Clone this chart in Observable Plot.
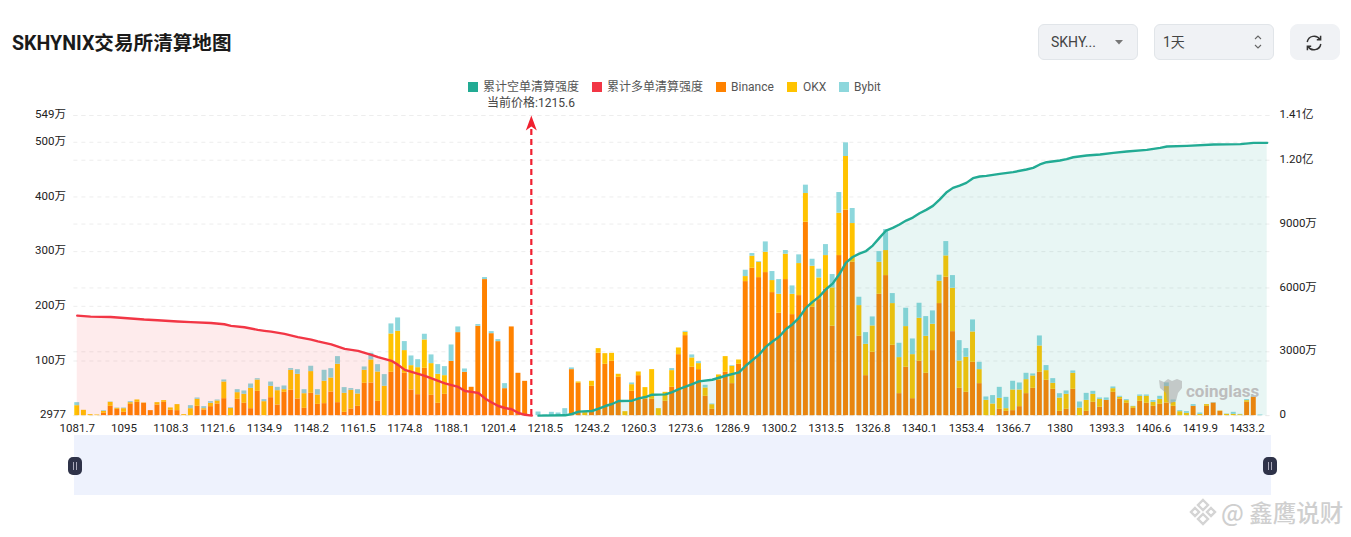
<!DOCTYPE html>
<html lang="zh">
<head>
<meta charset="utf-8">
<script src="https://cdn.jsdelivr.net/npm/d3@7"></script>
<script src="https://cdn.jsdelivr.net/npm/@observablehq/plot@0.6"></script>
<style>
html,body{margin:0;padding:0;background:#fff;overflow:hidden}
#page{position:relative;width:1351px;height:537px;font-family:Roboto,"Noto Sans CJK SC",sans-serif;overflow:hidden}
#page svg.plot{position:absolute;left:0;top:0}
.abs{position:absolute;white-space:nowrap}
#title{left:12px;top:30px;font:700 19.6px/28px Roboto,"Noto Sans CJK SC",sans-serif;color:#1a1a1a}
.ctl{position:absolute;top:24px;height:34px;background:#f0f2f5;border:1px solid #e1e5e9;border-radius:6px;font-size:14px;line-height:34px;color:#444}
.sw{position:absolute;top:82px;width:10px;height:10px}
.lg{position:absolute;top:79px;font-size:12px;line-height:16px;color:#555;white-space:nowrap}
#slider{position:absolute;left:74px;top:435px;width:1197px;height:60px;background:#eef2fd}
.hd{position:absolute;top:457px;width:14px;height:18px;border-radius:5px;background:#2f3349}
.hd i{position:absolute;top:5px;width:1px;height:8px;background:#aab}
</style>
</head>
<body>
<div id="page">
  <div class="abs" id="title">SKHYNIX交易所清算地图</div>
  <div class="ctl" style="left:1038px;width:98px"><span style="position:absolute;left:12px">SKHY...</span>
    <svg style="position:absolute;left:76px;top:15px" width="8" height="5"><path d="M0,0H8L4,4.5Z" fill="#777"/></svg></div>
  <div class="ctl" style="left:1154px;width:118px"><span style="position:absolute;left:8px">1天</span>
    <svg style="position:absolute;left:98px;top:9px" width="10" height="16"><path d="M2,5L5,2L8,5M2,11L5,14L8,11" fill="none" stroke="#666" stroke-width="1.1"/></svg></div>
  <div class="ctl" style="left:1290px;width:48px;border-color:#f0f2f5;border-radius:8px">
    <svg style="position:absolute;left:14px;top:9px" width="18" height="18" viewBox="0 0 18 18" fill="none" stroke="#333" stroke-width="1.5"><path d="M2.2,8A7,7 0 0 1 15,5.5M15.8,10A7,7 0 0 1 3,12.5"/><path d="M15.6,1.8V5.8H11.8M2.4,16.2V12.2H6.2"/></svg></div>

  <div id="chart"></div>

  <div class="sw" style="left:468px;background:#22ab94"></div><div class="lg" style="left:483px">累计空单清算强度</div>
  <div class="sw" style="left:592px;background:#f23645"></div><div class="lg" style="left:607px">累计多单清算强度</div>
  <div class="sw" style="left:716px;background:#ff8200"></div><div class="lg" style="left:731px">Binance</div>
  <div class="sw" style="left:787px;background:#ffc300"></div><div class="lg" style="left:803px">OKX</div>
  <div class="sw" style="left:839px;background:#8dd7dc"></div><div class="lg" style="left:854px">Bybit</div>
  <div class="lg" style="left:531px;top:95px;transform:translateX(-50%);color:#444;font-size:12px">当前价格:1215.6</div>

  <div id="slider"></div>
  <div class="hd" style="left:68px"><i style="left:5px"></i><i style="left:8px"></i></div>
  <div class="hd" style="left:1263px"><i style="left:5px"></i><i style="left:8px"></i></div>

  <svg class="abs" style="left:1156px;top:376px;opacity:.55" width="28" height="30" viewBox="0 0 28 30"><path d="M3,4 L8,6 L12,3 L16,5 L21,3 L26,5 L26,12 L22,17 L20,25 L14,28 L11,24 L10,17 L4,12Z" fill="#a5a5a5"/></svg>
  <div class="abs" style="left:1186px;top:380px;font:700 17px/22px Roboto,sans-serif;color:#bdbdbd">coinglass</div>

  <svg class="abs" style="left:1188px;top:497px" width="30" height="30" viewBox="0 0 30 30" fill="none" stroke="#d4d4d4" stroke-width="2.4"><path d="M15,3L20,8L15,13L10,8ZM7,11L11,15L7,19L3,15ZM23,11L27,15L23,19L19,15ZM15,17L20,22L15,27L10,22Z"/></svg>
  <div class="abs" style="left:1221px;top:497px;font:500 23.5px/30px 'Noto Sans CJK SC',sans-serif;color:#cfcfcf;letter-spacing:0">@ 鑫鹰说财</div>
</div>
<script>
// Exchange liquidation bars, in 万, one value per price bucket
const exchanges = ["Binance", "OKX", "Bybit"];
const exchangeColors = ["#ff8200", "#ffc300", "#8dd7dc"];

const binance = [
  0,0,0,0,4.3,17.1,11.6,6.1,20.7,24.4,
  22.6,9.2,19.5,24.4,9.8,9.2,0,0,17.1,10.4,
  16.5,21.4,31.1,0,29.9,22.6,12.8,44.5,0,32.9,
  19.5,42.7,46.4,30.5,13.4,40.9,20.7,22,43.3,23.8,
  6.1,12.2,17.1,59.2,59.8,26.2,0,79.3,92.7,77.5,
  47,38.4,86.6,37.2,22.6,39,99.4,151.9,79.3,51.9,
  163.5,248.9,150,135.4,49.4,162.3,77.5,62.8,0,0,
  0,0,0,0,84.2,59.2,0,53.7,114.1,93.9,
  99.4,70.2,0,44.5,73.2,29.9,29.9,0,26.2,51.9,
  111.6,146.4,88.5,84.2,35.4,11.6,64.7,79.3,58.6,93.9,
  245.2,269.6,252.5,261.7,225.1,187.3,248.9,184.8,219.6,353.8,
  198.3,212.3,231.8,163.5,292.8,375.8,280.6,145.2,73.2,115.9,
  222,256.2,128.7,40.3,88.5,31.1,99.4,77.5,119,205,
  253.2,153.7,50,42.7,97.6,58.6,0,0,11.6,7.9,
  9.2,16.5,40.3,50,79.3,64.7,48.2,7.9,11.6,48.2,
  0,7.9,24.4,15.3,28.1,42.7,29.9,22.6,13.4,26.2,
  22.6,17.1,20.7,23.2,17.1,0,0,17.1,0,17.1,
  23.2,7.9,0,0,0,24.4,34.2,0,0
];
const okx = [
  18.3,9.8,1.8,1.2,3.7,7.3,1.8,6.7,3.1,4.3,
  0.6,0,4.3,3.1,4.3,11,1.8,12.8,12.8,2.4,
  6.1,5.5,30.5,13.4,12.2,16.5,37.2,20.7,25.6,20.7,
  26.2,4.9,36.6,45.1,26.8,39.7,17.1,40.9,25.6,70.2,
  34.8,34.2,22.6,23.8,42.1,53.7,53.7,70.2,61.6,41.5,
  44.5,49.4,51.9,58,53.1,34.2,0,0,0,0,
  0,0,0,0,0,0,0,0,0,0,
  0,0,0,0,0,2.4,5.5,9.2,8.5,19.5,
  14.6,5.5,7.3,12.2,6.7,21.4,54.3,12.8,16.5,30.5,
  12.2,6.1,17.1,11,15.3,8.5,9.8,28.7,31.7,7.9,
  9.2,22,28.1,37.2,22,34.8,46.4,37.2,58.6,52.5,
  75,39.7,61,70.2,77.5,98.2,70.8,56.1,57.3,48.2,
  58.6,45.8,76.3,65.9,74.4,80.5,78.7,67.7,48.2,40.9,
  39,79.3,50,64.1,55.5,25.6,28.1,21.4,20.1,4.9,
  37.8,30.5,25.6,22.6,48.2,17.7,11,24.4,27.5,29.3,
  14,20.1,14.6,14.6,0,6.7,3.7,4.9,3.1,9.2,
  12.8,7.3,9.2,30,7.3,7.3,4.3,0,2.4,3.1,
  0,0.6,2.4,2.4,1.8,3.1,0,0,0
];
const bybit = [
  5.5,0,0,0,1.2,0.6,0.6,1.2,1.8,0,
  0,0,0,0,0,0,0,5.5,2.4,3.7,
  3.1,1.8,3.7,1.2,5.5,6.1,7.9,2.4,3.7,7.9,
  6.1,6.7,3.1,8.5,7.3,9.8,9.8,20.1,17.1,14,
  10.4,3.1,7.9,6.1,12.2,13.4,21.4,18.3,24.4,16.5,
  17.7,14.6,10.4,15.9,17.7,16.5,29.9,10.4,6.1,0,
  3.1,3.7,3.7,3.7,9.2,0,0,0,0,6.7,
  1.2,6.1,4.9,12.8,3.1,0,0,0,0,0,
  0,0,0,3.1,0,0,0,0,0,3.7,
  0,1.8,5.5,3.7,4.9,1.2,0,0,1.2,0,
  11.6,4.9,1.2,18.9,16.5,26.8,6.7,15.3,15.9,15.3,
  12.8,15.9,20.1,24.4,37.8,25,27.5,15.3,21.4,16.5,
  19.5,38.4,18.3,26.2,33.6,28.7,27.5,36,24.4,11,
  26.2,23.2,37.2,15.9,22,13.4,6.1,15.3,20.1,20.7,
  15.9,12.8,11.6,3.7,18.3,9.2,8.5,7.9,6.1,4.3,
  11,12.8,5.5,2.4,4.3,3.1,1.8,1.8,0.6,2.4,
  2.4,3.1,5.5,6.7,4.3,1.8,3.1,3.1,2.4,0,
  0.6,0,0.6,3.7,0.6,1.8,1.8,1.2,0
];

// Cumulative long liquidation intensity (red), in 万, read at these buckets
const longIdx = [0,2,5,7,10,12,15,17,20,22,23,25,27,28,29,31,33,35,36,38,40,42,44,45,47,48,49,51,52,53,55,57,58,59,60,61,62,63,64,65,66,67,68];
const longCum = [4700,4650,4635,4590,4515,4480,4425,4395,4355,4295,4220,4155,4030,3985,3945,3840,3690,3575,3490,3350,3140,3045,2855,2750,2575,2385,2150,1960,1865,1750,1515,1350,1160,1115,1065,810,620,455,360,300,125,40,0];

// Cumulative short liquidation intensity (green), in 万, read at these buckets
const shortIdx = [69,73,74,75,77,78,79,80,81,83,84,85,86,88,89,90,91,92,93,95,96,97,99,100,101,102,103,104,105,106,107,108,109,110,111,112,113,114,115,116,117,118,119,120,121,122,123,124,125,126,127,128,129,130,131,132,133,134,135,136,138,140,142,143,144,145,147,148,149,151,153,155,157,160,162,163,166,170,174,176,178];
const shortCum = [0,16,78,188,219,328,453,547,688,703,813,875,984,1000,1109,1250,1359,1484,1609,1688,1781,1875,2031,2344,2609,2859,3234,3484,3703,4063,4297,4609,5063,5344,5594,5938,6203,6641,7188,7453,7609,7734,7990,8350,8695,8820,8980,9165,9305,9510,9667,9855,10150,10480,10700,10810,10935,11155,11233,11266,11360,11440,11562,11640,11800,11905,11985,12050,12140,12220,12267,12346,12410,12487,12580,12643,12675,12737,12753,12815,12815];

// Tick labels
const priceTickIdx = [0,7,14,21,28,35,42,49,56,63,70,77,84,91,98,105,112,119,126,133,140,147,154,161,168,175];
const priceTickLabels = ["1081.7","1095","1108.3","1121.6","1134.9","1148.2","1161.5","1174.8","1188.1","1201.4","1218.5","1243.2","1260.3","1273.6","1286.9","1300.2","1313.5","1326.8","1340.1","1353.4","1366.7","1380","1393.3","1406.6","1419.9","1433.2"];
const leftTicks = [0.2977,100,200,300,400,500,549];
const leftLabels = ["2977","100万","200万","300万","400万","500万","549万"];
const rightTicks = [0,3000,6000,9000,12000,14100];
const rightLabels = ["0","3000万","6000万","9000万","1.20亿","1.41亿"];

const currentIdx = 68;
const leftMax = 549, rightMax = 14100;
const toLeft = v => v * leftMax / rightMax;

const bucketCount = binance.length;
const bars = [binance, okx, bybit].flatMap((s, e) => s.map((v, i) => ({i, ex: exchanges[e], v})));
const longRows = longIdx.map((i, n) => ({i, v: toLeft(longCum[n])}));
const shortRows = shortIdx.map((i, n) => ({i, v: toLeft(shortCum[n])}));
const gridRows = [...leftTicks, ...rightTicks.map(toLeft)];

const xLabel = new Map(priceTickIdx.map((t, n) => [t, priceTickLabels[n]]));
const leftLabel = new Map(leftTicks.map((t, n) => [t, leftLabels[n]]));
const rightLabel = new Map(rightTicks.map((t, n) => [toLeft(t), rightLabels[n]]));

const arrowHead = {draw(c) { c.moveTo(0, 0); c.lineTo(5.5, 15); c.lineTo(0, 11); c.lineTo(-5.5, 15); c.closePath(); }};

const plot = Plot.plot({
  width: 1351, height: 537,
  marginLeft: 73.4, marginRight: 81, marginTop: 115, marginBottom: 122,
  style: {fontFamily: 'Roboto,"Noto Sans CJK SC",sans-serif', fontSize: "11.5px", color: "#222", background: "transparent"},
  x: {type: "band", domain: d3.range(bucketCount), paddingInner: 0.26, paddingOuter: 0.13, axis: null},
  y: {domain: [leftTicks[0], leftMax], axis: null},
  color: {domain: exchanges, range: exchangeColors},
  marks: [
    Plot.ruleY(gridRows, {stroke: "#ededed", strokeDasharray: "4,4"}),
    Plot.barY(bars, {x: "i", y: "v", fill: "ex"}),
    Plot.areaY(longRows, {x: "i", y: "v", fill: "#f23645", fillOpacity: 0.1}),
    Plot.areaY(shortRows, {x: "i", y: "v", fill: "#22ab94", fillOpacity: 0.1}),
    Plot.lineY(longRows, {x: "i", y: "v", stroke: "#f23645", strokeWidth: 2.4}),
    Plot.lineY(shortRows, {x: "i", y: "v", stroke: "#22ab94", strokeWidth: 2.4}),
    Plot.ruleX([currentIdx], {y1: leftTicks[0], y2: 525, dx: -0.5, stroke: "#f0202f", strokeWidth: 2.2, strokeDasharray: "6,4"}),
    Plot.dot([currentIdx], {x: d => d, y: leftMax, dx: -0.5, fill: "#f0202f", stroke: "none", symbol: arrowHead}),
    Plot.axisX(priceTickIdx, {tickSize: 0, tickPadding: 8, tickFormat: d => xLabel.get(d), label: null}),
    Plot.axisY(leftTicks, {anchor: "left", tickSize: 0, tickPadding: 8, dy: -1, tickFormat: d => leftLabel.get(d), label: null}),
    Plot.axisY(rightTicks.map(toLeft), {anchor: "right", tickSize: 0, tickPadding: 9, dy: -1, tickFormat: d => rightLabel.get(d), label: null})
  ]
});
document.getElementById("chart").appendChild(plot);
</script>
</body>
</html>
